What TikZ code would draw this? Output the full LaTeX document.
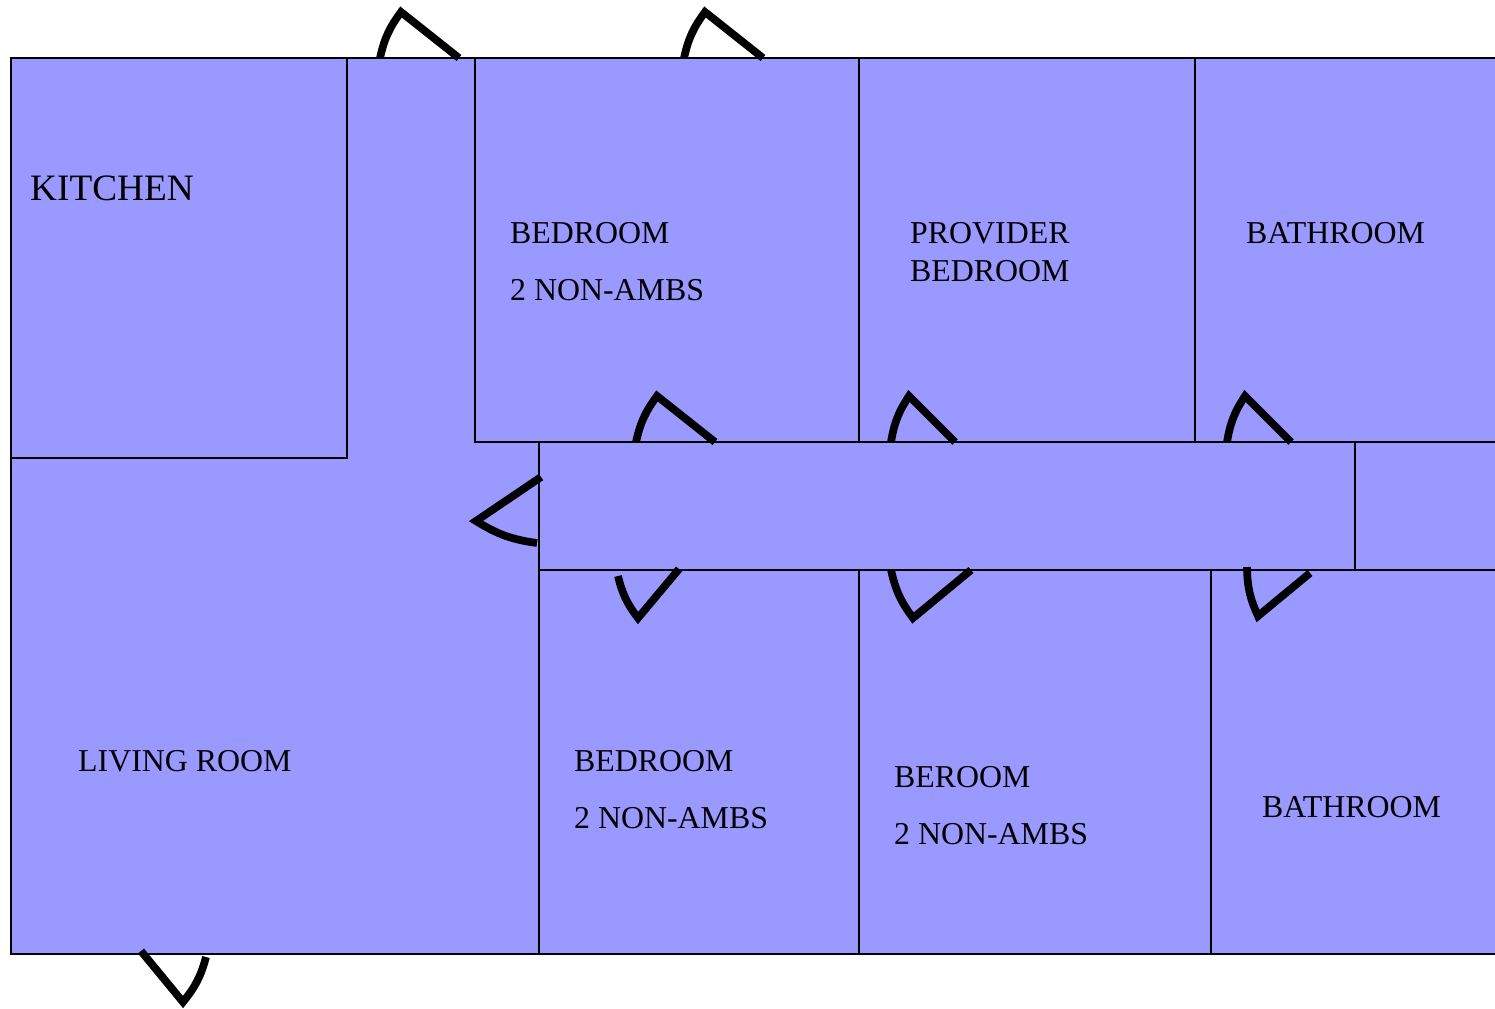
\documentclass[tikz,border=0pt]{standalone}
\usepackage{fontspec}
\setmainfont{Liberation Serif}
\definecolor{roomblue}{RGB}{153,153,255}
\tikzset{
    wall/.style={draw=black, line width=0.57pt},
    door/.style={draw=black, line width=2.2pt},
    roomlabel/.style={anchor=base west, inner sep=0pt, font=\fontsize{9.06pt}{11pt}\selectfont},
    biglabel/.style={anchor=base west, inner sep=0pt, font=\fontsize{10.6pt}{12pt}\selectfont}
}
\begin{document}
\begin{tikzpicture}[x=0.01cm,y=-0.01cm]
        \useasboundingbox (0,0) rectangle (1495,1008);

        %floor
        \fill[roomblue] (11,58) rectangle (1495,954);

        %outer walls
        \draw[wall] (1495,58) -- (11,58) -- (11,954) -- (1495,954);

        %kitchen
        \draw[wall] (347,58) -- (347,458) -- (11,458);

        %upper rooms
        \draw[wall] (475,58) -- (475,442) -- (1495,442);
        \draw[wall] (859,58) -- (859,442);
        \draw[wall] (1195,58) -- (1195,442);

        %hallway
        \draw[wall] (539,442) -- (539,954);
        \draw[wall] (539,570) -- (1495,570);
        \draw[wall] (1355,442) -- (1355,570);

        %lower rooms
        \draw[wall] (859,570) -- (859,954);
        \draw[wall] (1211,570) -- (1211,954);

        %doors on the top wall
        \draw[door] (380,58) to[bend left=12] (401,12) -- (459,58);
        \draw[door] (684,58) to[bend left=12] (705,12) -- (763,58);

        %doors of the upper rooms
        \draw[door] (636,442) to[bend left=12] (657,396) -- (715,442);
        \draw[door] (891,442) to[bend left=12] (909,396) -- (955,442);
        \draw[door] (1227,442) to[bend left=12] (1245,396) -- (1291,442);

        %door of the hallway
        \draw[door] (541,477) -- (476,521) to[bend right=12] (537,543);

        %doors of the lower rooms
        \draw[door] (618,576) to[bend right=12] (638,618) -- (679,569);
        \draw[door] (891,570) to[bend right=12] (913,618) -- (971,570);
        \draw[door] (1247,567) to[bend right=12] (1258,616) -- (1310,573);

        %front door
        \draw[door] (141,951) -- (183,1002) to[bend right=12] (206,957);

        %labels
        \node[biglabel] (kitchen) at (29.5,200) {KITCHEN};
        \node[roomlabel] (bedroomA) at (509.5,243) {BEDROOM};
        \node[roomlabel] (ambsA) at (509.5,300) {2 NON-AMBS};
        \node[roomlabel] (provider) at (909.5,243) {PROVIDER};
        \node[roomlabel] (bedroomB) at (909.5,281) {BEDROOM};
        \node[roomlabel] (bathA) at (1245.5,243) {BATHROOM};
        \node[roomlabel] (living) at (77.5,771) {LIVING ROOM};
        \node[roomlabel] (bedroomC) at (573.5,771) {BEDROOM};
        \node[roomlabel] (ambsC) at (573.5,828) {2 NON-AMBS};
        \node[roomlabel] (bedroomD) at (893.5,787) {BEROOM};
        \node[roomlabel] (ambsD) at (893.5,844) {2 NON-AMBS};
        \node[roomlabel] (bathB) at (1261.5,817) {BATHROOM};
    \end{tikzpicture}
\end{document}
